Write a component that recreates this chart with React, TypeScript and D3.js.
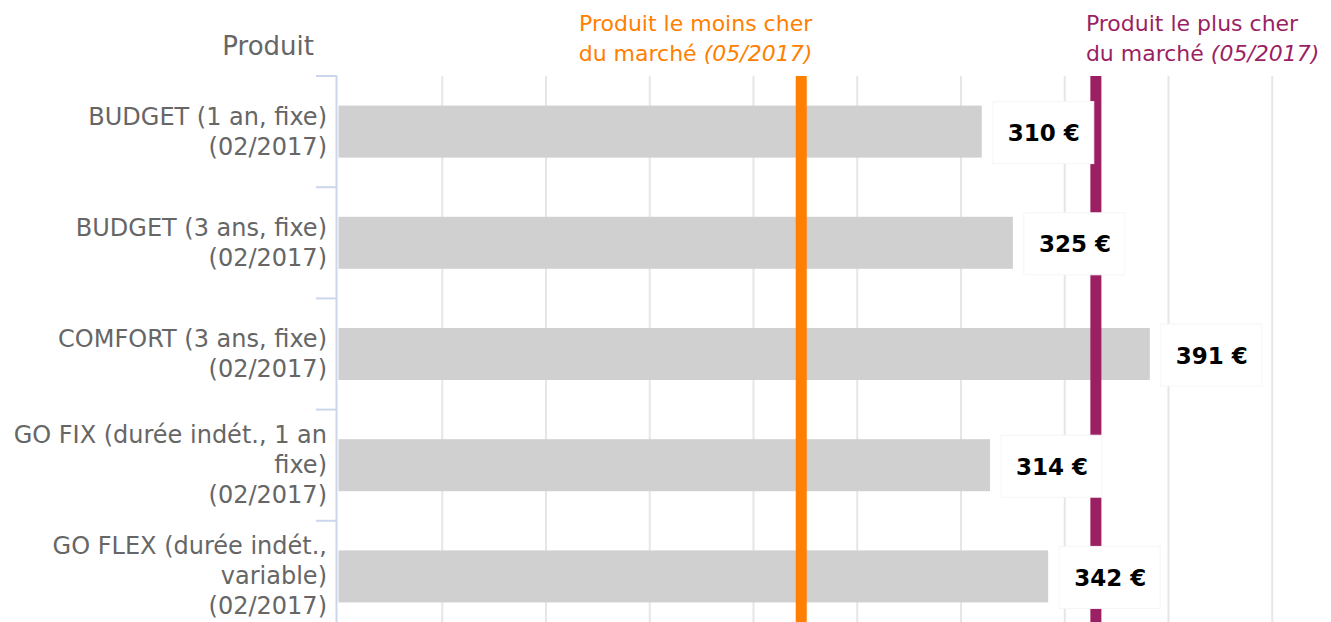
import React, { useEffect, useRef } from 'react';
import * as d3 from 'd3';

// produits (retours à la ligne comme dans l'original)
const categories = [
  'BUDGET (1 an, fixe)\n(02/2017)',
  'BUDGET (3 ans, fixe)\n(02/2017)',
  'COMFORT (3 ans, fixe)\n(02/2017)',
  'GO FIX (durée indét., 1 an\nfixe)\n(02/2017)',
  'GO FLEX (durée indét.,\nvariable)\n(02/2017)',
];
const values = [310, 325, 391, 314, 342];

// lignes de référence du marché
const cheapestValue = 223;
const priciestValue = 365;
const cheapestLabel = ['Produit le moins cher', 'du marché ', '(05/2017)'];
const priciestLabel = ['Produit le plus cher', 'du marché ', '(05/2017)'];

const axisTitle = 'Produit';
const xDomain = [0, 500];

const FONT = '"DejaVu Sans", Verdana, sans-serif';
const ORANGE = '#ff8000';
const PURPLE = '#9b1f63';

const App = () => {
  const ref = useRef<SVGSVGElement>(null);

  useEffect(() => {
    const width = 1331;
    const height = 622;
    const top = 76;
    const band = 111.2;

    const svg = d3.select(ref.current)
      .attr('width', width)
      .attr('height', height)
      .style('font-family', FONT);

    svg.selectAll('*').remove();

    const x = d3.scaleLinear()
      .domain(xDomain)
      .range([338.5, 338.5 + 2.075 * 500]);

    const y = d3.scaleBand()
      .domain(categories)
      .range([top, top + band * categories.length])
      .padding(0);

    const bottom = top + band * categories.length;

    // grille verticale
    svg.append('g')
      .selectAll('line')
      .data(x.ticks(10).filter(d => d > 0))
      .join('line')
      .attr('x1', d => x(d))
      .attr('x2', d => x(d))
      .attr('y1', top)
      .attr('y2', bottom)
      .attr('stroke', '#e6e6e6')
      .attr('stroke-width', 2);

    // barres
    const barH = 52;
    svg.append('g')
      .selectAll('rect')
      .data(values)
      .join('rect')
      .attr('x', x(0))
      .attr('y', (d, i) => y(categories[i])! + y.bandwidth() / 2 - barH / 2)
      .attr('width', d => x(d) - x(0))
      .attr('height', barH)
      .attr('fill', '#d0d0d0');

    // lignes du marché
    [[cheapestValue, ORANGE], [priciestValue, PURPLE]].forEach(([v, c]) => {
      svg.append('rect')
        .attr('x', x(v as number) - 5.5)
        .attr('y', top)
        .attr('width', 11)
        .attr('height', bottom - top)
        .attr('fill', c as string);
    });

    // axe des catégories
    svg.append('line')
      .attr('x1', 336.5).attr('x2', 336.5)
      .attr('y1', top).attr('y2', bottom)
      .attr('stroke', '#ccd6eb')
      .attr('stroke-width', 2);

    svg.append('g')
      .selectAll('line')
      .data([...categories.map(c => y(c)!), bottom])
      .join('line')
      .attr('x1', 316).attr('x2', 337)
      .attr('y1', d => d).attr('y2', d => d)
      .attr('stroke', '#ccd6eb')
      .attr('stroke-width', 2);

    // libellés des catégories
    const lineH = 30;
    categories.forEach(c => {
      const lines = c.split('\n');
      const cy = y(c)! + y.bandwidth() / 2;
      const t = svg.append('text')
        .attr('text-anchor', 'end')
        .attr('fill', '#666666')
        .attr('font-size', 24);
      lines.forEach((l, j) => {
        t.append('tspan')
          .attr('x', 327)
          .attr('y', cy - (lines.length - 1) * lineH / 2 + j * lineH + 8)
          .text(l);
      });
    });

    // étiquettes de valeur
    values.forEach((v, i) => {
      const cy = y(categories[i])! + y.bandwidth() / 2 + 1;
      const g = svg.append('g');
      const box = g.append('rect')
        .attr('fill', '#ffffff')
        .attr('stroke', '#f6f6f6')
        .attr('stroke-width', 1);
      const t = g.append('text')
        .attr('x', x(v) + 26)
        .attr('y', cy + 8.5)
        .attr('font-size', 23)
        .attr('font-weight', 'bold')
        .attr('fill', '#000')
        .text(`${v} €`);
      const w = (t.node() as SVGTextElement).getComputedTextLength();
      box.attr('x', x(v) + 11)
        .attr('y', cy - 31)
        .attr('width', w + 29)
        .attr('height', 62);
    });

    // titre de l'axe
    svg.append('text')
      .attr('x', 314)
      .attr('y', 55)
      .attr('text-anchor', 'end')
      .attr('font-size', 26)
      .attr('fill', '#666666')
      .text(axisTitle);

    // libellés des lignes du marché
    const addLabel = (lbl: string[], v: number, color: string, anchor: string, dx: number) => {
      const t = svg.append('text')
        .attr('text-anchor', anchor)
        .attr('font-size', 22)
        .attr('fill', color);
      t.append('tspan').attr('x', x(v) + dx).attr('y', 31).text(lbl[0]);
      t.append('tspan').attr('x', x(v) + dx).attr('y', 61).text(lbl[1])
        .append('tspan').attr('font-style', 'italic').text(lbl[2]);
    };
    addLabel(cheapestLabel, cheapestValue, ORANGE, 'end', 11);
    addLabel(priciestLabel, priciestValue, PURPLE, 'start', -10);
  }, []);

  return (
    <svg ref={ref} style={{ position: 'absolute', left: 0, top: 0, display: 'block' }}></svg>
  );
};

export default App;
